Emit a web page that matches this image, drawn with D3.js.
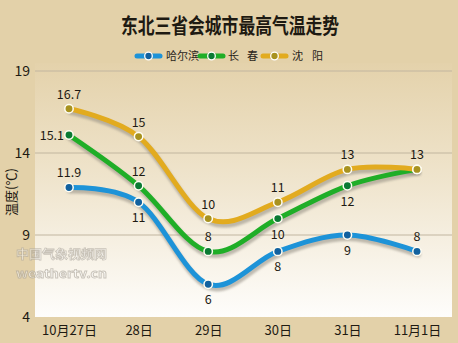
<!DOCTYPE html>
<html>
<head>
<meta charset="utf-8">
<script src="https://cdn.jsdelivr.net/npm/d3@7"></script>
<style>
  html, body { margin: 0; padding: 0; background: #e3d1a9; }
  svg { display: block; }
  text { font-family: "Noto Sans CJK SC", "Noto Sans", sans-serif; }
</style>
</head>
<body>
<svg id="chart" width="458" height="343"></svg>
<script>
// Daily maximum temperatures (°C) for the three northeast provincial capitals
const days = ["10月27日", "28日", "29日", "30日", "31日", "11月1日"];
const harbin = [11.9, 11, 6, 8, 9, 8];
const changchun = [15.1, 12, 8, 10, 12, 13];
const shenyang = [16.7, 15, 10, 11, 13, 13];
const yTicks = [4, 9, 14, 19];

// label placement per point: "a" above, "b" below, "l" left, "" none
const harbinPos = ["a", "b", "b", "b", "b", "a"];
const changchunPos = ["l", "a", "a", "b", "b", ""];
const shenyangPos = ["a", "a", "a", "a", "a", "a"];

const series = [
  { name: "哈尔滨", values: harbin, pos: harbinPos, line: "#1d93d8", dot: "#11619f" },
  { name: "长春", values: changchun, pos: changchunPos, line: "#1fae27", dot: "#0b7a33" },
  { name: "沈阳", values: shenyang, pos: shenyangPos, line: "#e2ab1f", dot: "#a8921f" }
];

const svg = d3.select("#chart");
const W = 458, H = 343;
const plot = { left: 35, right: 452, top: 63, bottom: 317 };

const x = d3.scalePoint().domain(days).range([69, 417]);
const y = d3.scaleLinear().domain([4, 19]).range([317, 71]);

const defs = svg.append("defs");
const grad = defs.append("linearGradient").attr("id", "plotBg")
  .attr("x1", 0).attr("y1", 0).attr("x2", 0).attr("y2", 1);
grad.append("stop").attr("offset", "0%").attr("stop-color", "#e4d2ab");
grad.append("stop").attr("offset", "45%").attr("stop-color", "#efe4cc");
grad.append("stop").attr("offset", "100%").attr("stop-color", "#fefdfb");

const blur = defs.append("filter").attr("id", "shadowBlur")
  .attr("x", "-10%").attr("y", "-20%").attr("width", "120%").attr("height", "140%");
blur.append("feGaussianBlur").attr("stdDeviation", 1.2);

// background
svg.append("rect").attr("width", W).attr("height", H).attr("fill", "#e3d1a9");
svg.append("rect")
  .attr("x", plot.left).attr("y", plot.top)
  .attr("width", plot.right - plot.left).attr("height", plot.bottom - plot.top)
  .attr("fill", "url(#plotBg)");

// title
svg.append("text")
  .attr("x", 230).attr("y", 33)
  .attr("text-anchor", "middle")
  .attr("font-size", 21).attr("font-weight", 700)
  .attr("fill", "#1e1a12")
  .attr("textLength", 218).attr("lengthAdjust", "spacingAndGlyphs")
  .text("东北三省会城市最高气温走势");

// legend: the two-character names are spread out with a gap
const legendItems = [
  { chars: ["哈尔滨"], step: 0, x0: 137, tx: 166, s: series[0] },
  { chars: ["长", "春"], step: 19, x0: 200, tx: 228, s: series[1] },
  { chars: ["沈", "阳"], step: 20, x0: 263, tx: 292, s: series[2] }
];
const lg = svg.append("g");
legendItems.forEach(d => {
  lg.append("line")
    .attr("x1", d.x0).attr("x2", d.x0 + 23)
    .attr("y1", 56).attr("y2", 56)
    .attr("stroke", d.s.line).attr("stroke-width", 5).attr("stroke-linecap", "round");
  lg.append("circle")
    .attr("cx", d.x0 + 11.5).attr("cy", 56).attr("r", 3.8)
    .attr("fill", d.s.dot).attr("stroke", "#ffffff").attr("stroke-width", 1.3);
  lg.append("g").selectAll("text")
    .data(d.chars)
    .join("text")
    .attr("x", (c, i) => d.tx + i * d.step)
    .attr("y", 60)
    .attr("font-size", 11).attr("fill", "#2a241a")
    .attr("font-family", "'Noto Serif CJK SC', 'Noto Sans CJK SC', serif")
    .text(c => c);
});

// gridlines
svg.append("g").selectAll("line")
  .data(yTicks.filter(t => t !== 4))
  .join("line")
  .attr("x1", plot.left).attr("x2", plot.right)
  .attr("y1", d => y(d)).attr("y2", d => y(d))
  .attr("stroke", "#c2b6a0").attr("stroke-width", 1.2);

// y axis ticks
const yAxis = d3.axisLeft(y).tickValues(yTicks).tickSize(0).tickPadding(4);
const yg = svg.append("g").attr("transform", `translate(${plot.left - 1},0)`).call(yAxis);
yg.select(".domain").remove();
yg.selectAll("text")
  .attr("font-size", 14).attr("fill", "#1e1a12")
  .attr("font-family", "'Liberation Sans Narrow', 'Roboto Condensed', 'Noto Sans', sans-serif");

// y axis title
svg.append("text")
  .attr("transform", "translate(16,192) rotate(-90)")
  .attr("text-anchor", "middle")
  .attr("font-size", 13).attr("fill", "#1e1a12")
  .attr("font-family", "'Noto Serif CJK SC', 'Noto Sans CJK SC', serif")
  .text("温度(℃)");

// x axis labels
const xAxis = d3.axisBottom(x).tickSize(0).tickPadding(9);
const xg = svg.append("g").attr("transform", `translate(0,${plot.bottom})`).call(xAxis);
xg.select(".domain").remove();
xg.selectAll("text")
  .attr("font-size", 13).attr("fill", "#1e1a12");

// watermark
const wm = svg.append("g").attr("opacity", 0.6);
wm.append("text")
  .attr("x", 16).attr("y", 259)
  .attr("font-size", 12).attr("font-weight", 700)
  .attr("textLength", 91).attr("lengthAdjust", "spacingAndGlyphs")
  .attr("fill", "#ffffff").attr("stroke", "#aaa49a").attr("stroke-width", 0.8)
  .text("中国气象视频网");
wm.append("text")
  .attr("x", 16).attr("y", 278)
  .attr("font-size", 11).attr("font-weight", 700)
  .attr("textLength", 91).attr("lengthAdjust", "spacingAndGlyphs")
  .attr("font-family", "'DejaVu Sans', sans-serif")
  .attr("fill", "#ffffff").attr("stroke", "#aaa49a").attr("stroke-width", 0.8)
  .text("weathertv.cn");

// lines
const line = d3.line()
  .x((d, i) => x(days[i]))
  .y(d => y(d))
  .curve(d3.curveCardinal.tension(0));

const lines = svg.append("g");
series.forEach(s => {
  lines.append("path")
    .attr("d", line(s.values))
    .attr("fill", "none")
    .attr("stroke", "#8f8a80").attr("stroke-opacity", 0.55)
    .attr("stroke-width", 6).attr("stroke-linecap", "round")
    .attr("transform", "translate(1,3)")
    .attr("filter", "url(#shadowBlur)");
});
series.forEach(s => {
  lines.append("path")
    .attr("d", line(s.values))
    .attr("fill", "none")
    .attr("stroke", s.line)
    .attr("stroke-width", 5).attr("stroke-linecap", "round");
});

// points and value labels
series.forEach(s => {
  const g = svg.append("g");
  g.selectAll("circle")
    .data(s.values)
    .join("circle")
    .attr("cx", (d, i) => x(days[i]))
    .attr("cy", d => y(d))
    .attr("r", 4.2)
    .attr("fill", s.dot)
    .attr("stroke", "#fffdf2").attr("stroke-width", 1.5);

  g.selectAll("text")
    .data(s.values.map((v, i) => ({ v, i, p: s.pos[i] })).filter(d => d.p))
    .join("text")
    .attr("x", d => d.p === "l" ? x(days[d.i]) - 5 : x(days[d.i]))
    .attr("y", d => d.p === "a" ? y(d.v) - 10 : d.p === "b" ? y(d.v) + 20 : y(d.v) + 5)
    .attr("text-anchor", d => d.p === "l" ? "end" : "middle")
    .attr("font-size", 12.5).attr("fill", "#1e1a12")
    .attr("font-family", "'Liberation Sans Narrow', 'Noto Sans', sans-serif")
    .text(d => d.v);
});
</script>
</body>
</html>
